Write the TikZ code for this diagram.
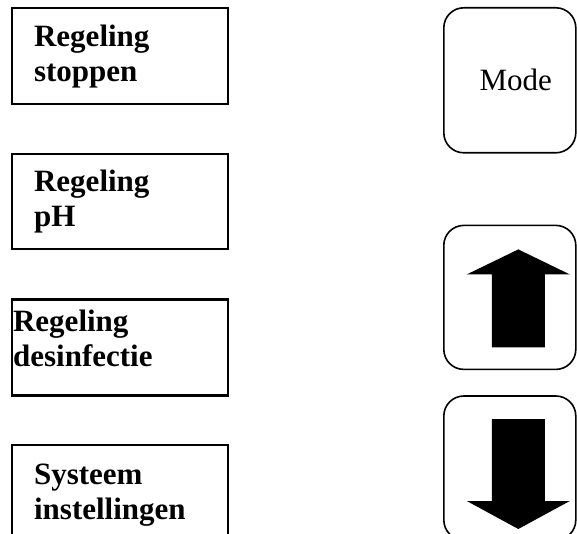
\documentclass[tikz,border=0pt]{standalone}
\usepackage{fontspec}
\setmainfont{Liberation Serif}
\usepackage{tikz}
\usetikzlibrary{positioning}

\tikzset{
  menubox/.style={draw, line width=2.2pt, minimum width=216pt, minimum height=96pt,
    text width=172pt, inner xsep=22pt, align=left, anchor=north west,
    font=\fontsize{31}{35}\selectfont\bfseries},
  keybox/.style={draw, line width=1.6pt, rounded corners=20pt, minimum width=132pt,
    minimum height=144pt, anchor=north west, font=\fontsize{31}{35}\selectfont},
}

\begin{document}
\begin{tikzpicture}[x=1pt, y=-1pt, node distance=48pt]
    \path[use as bounding box] (0,0) rectangle (577,534);
    \clip (0,0) rectangle (577,534);
    % menu items (left column)
    \node[menubox] (stoppen) at (11,7) {Regeling\\stoppen};
    \node[menubox, below=of stoppen.south west, anchor=north west, minimum height=95pt] (ph) {Regeling\\pH};
    \node[menubox, below=of ph.south west, anchor=north west, text width=214pt, inner xsep=1pt] (desinf) {Regeling\\desinfectie\vspace*{18pt}};
    \node[menubox, below=47pt of desinf.south west, anchor=north west, minimum height=101pt] (systeem) {Systeem\\instellingen};
    % keys (right column)
    \node[keybox, minimum height=145pt] (mode) at (443,7) {\hspace*{12pt}Mode};
    \node[keybox, below=71pt of mode.south west, anchor=north west] (up) {};
    \node[keybox, below=25pt of up.south west, anchor=north west] (down) {};
    % arrows on the keys
    \fill[shift={(up.center)}] (8.5,-48) -- (60,-23) -- (35,-23) -- (35,50) -- (-18,50)
        -- (-18,-23) -- (-43,-23) -- cycle;
    \fill[shift={(down.center)}] (-18,-49) -- (35,-49) -- (35,33) -- (60,33) -- (8.5,61)
        -- (-43,33) -- (-18,33) -- cycle;
\end{tikzpicture}
\end{document}
